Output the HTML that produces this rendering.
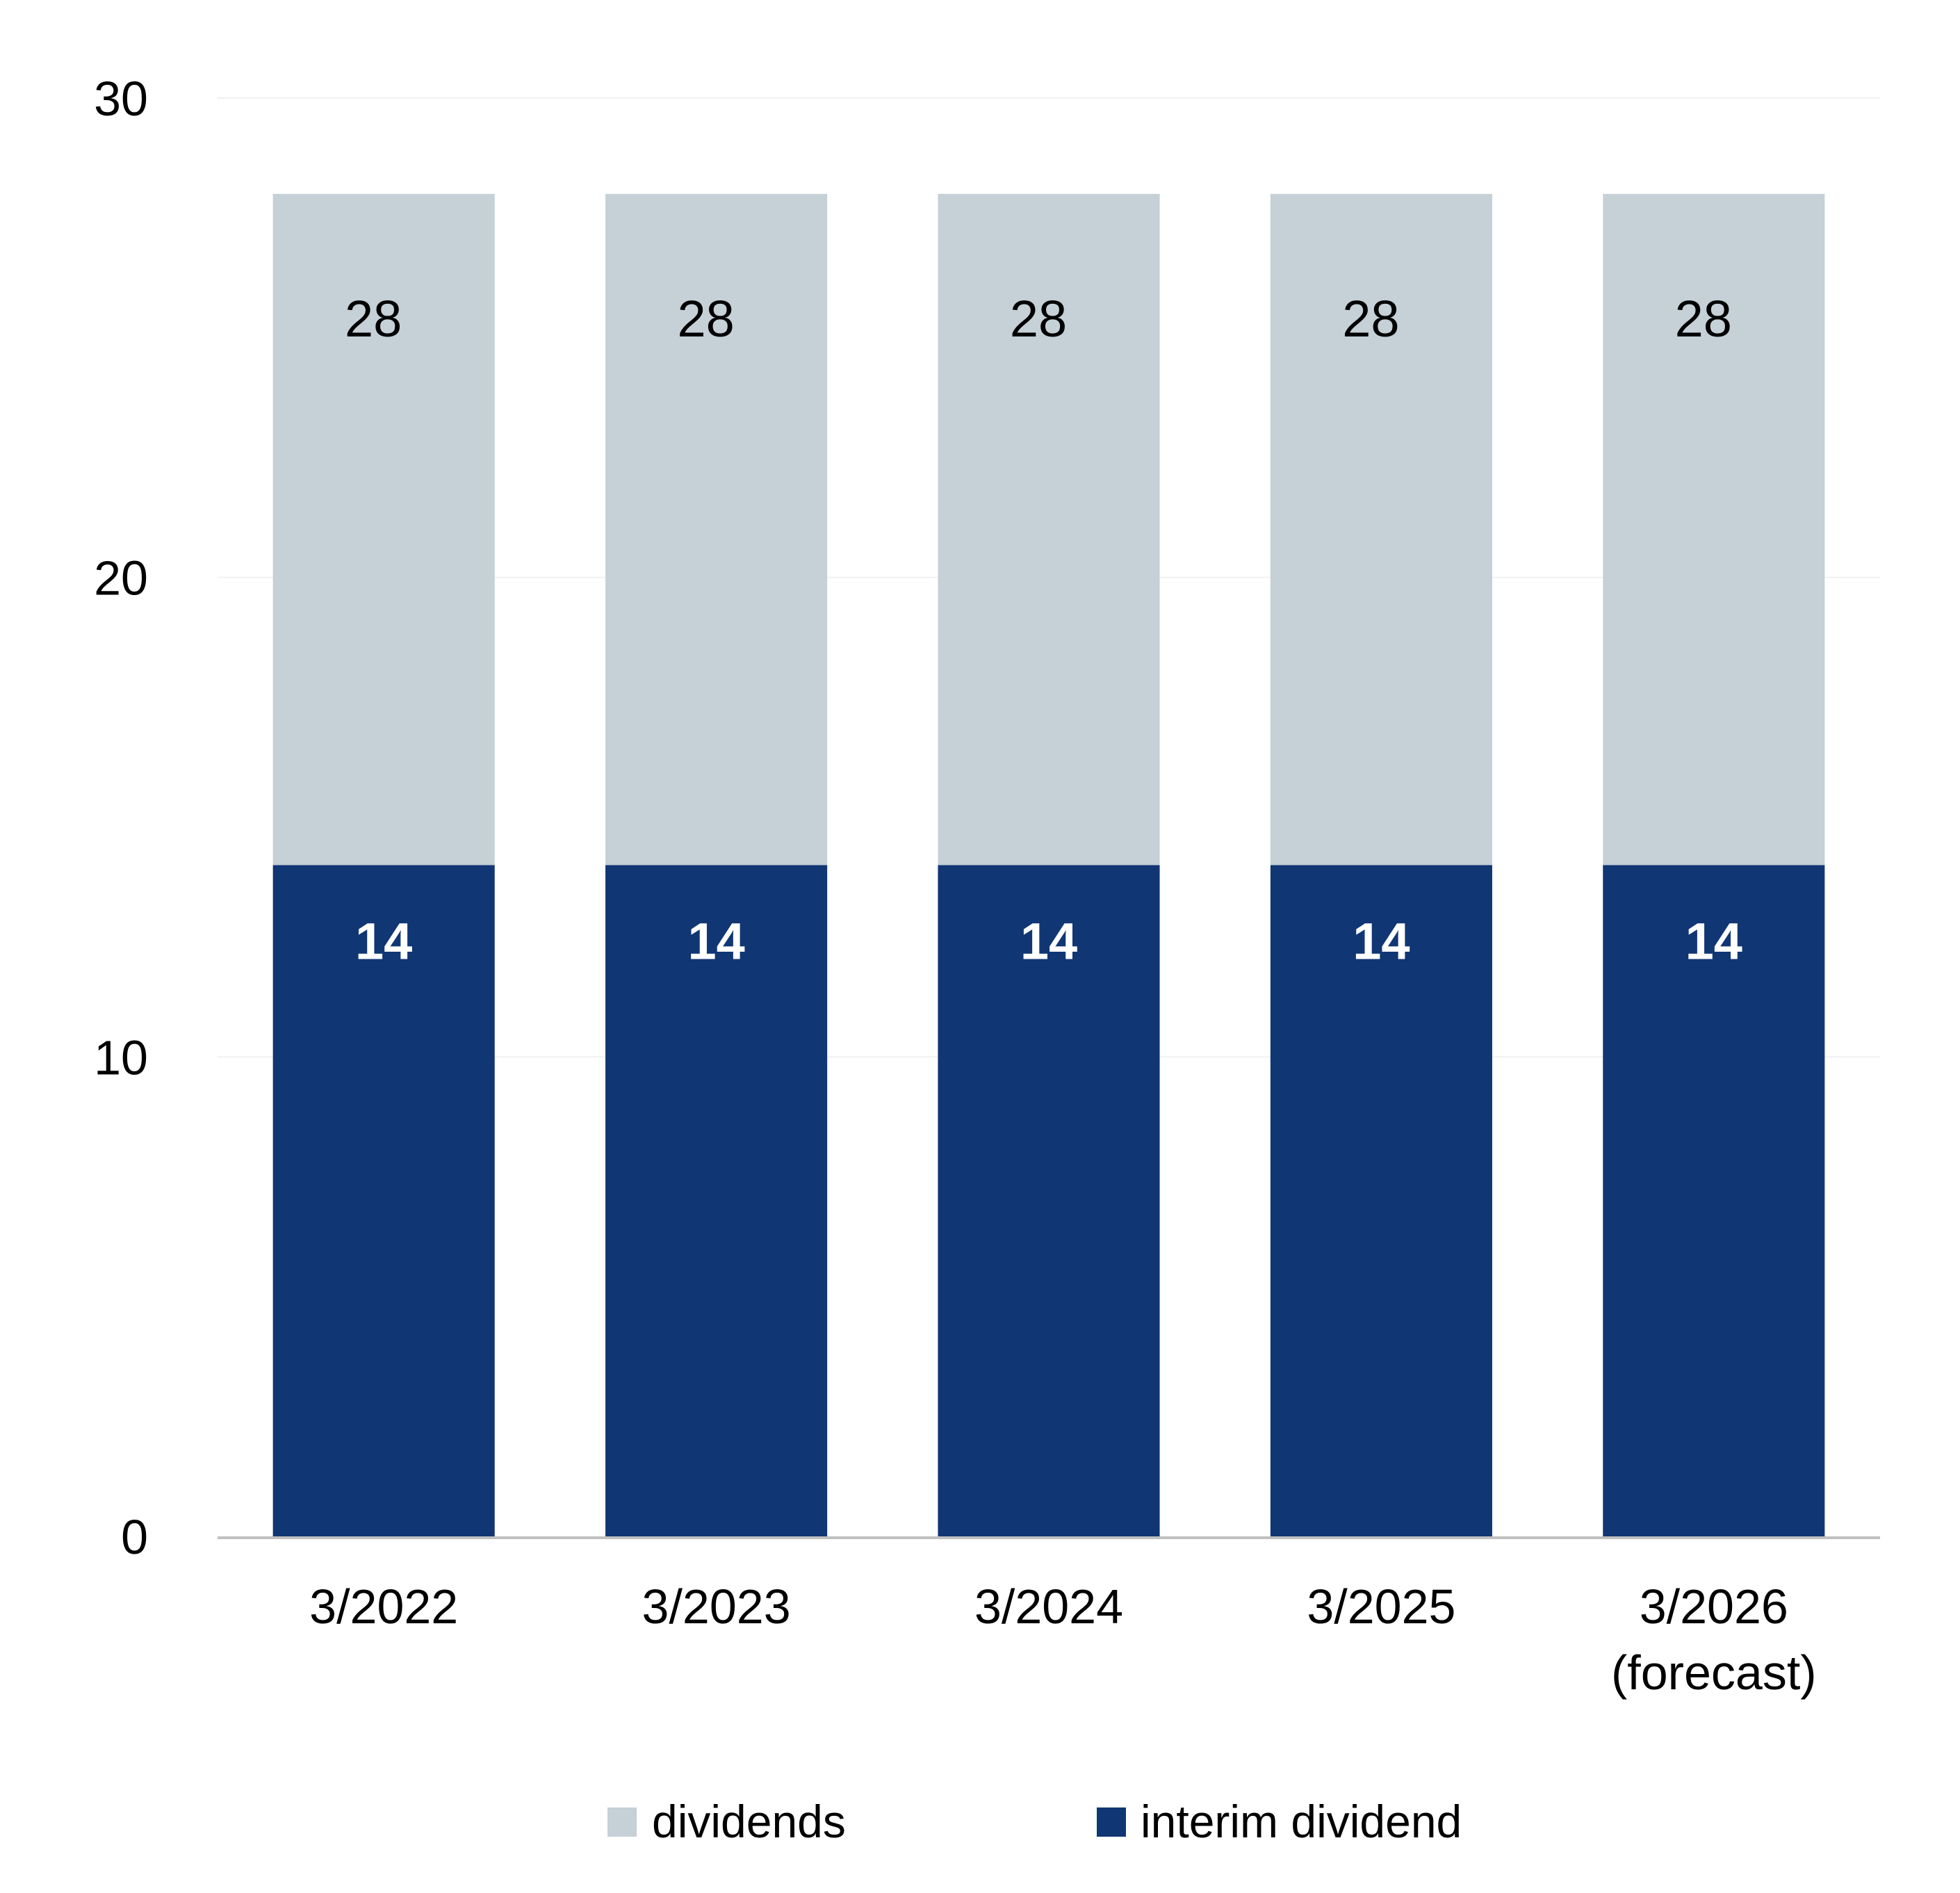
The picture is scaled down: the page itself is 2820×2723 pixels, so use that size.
<!DOCTYPE html>
<html><head><meta charset="utf-8"><style>
html,body{margin:0;padding:0;background:#fff;}
svg{display:block;font-family:"Liberation Sans",sans-serif;}
</style></head><body>
<svg id="chart" width="2820" height="2723" viewBox="0 0 2820 2723" xmlns="http://www.w3.org/2000/svg">
<g id="grid"></g>
<g id="bars"></g>
<g id="labels"></g>
<g id="yaxis"></g>
<g id="xaxis"></g>
<g>
  <rect x="874" y="2600" width="42" height="42" fill="#c5d0d7"/>
  <text x="938" y="2643" font-size="66" fill="#000">dividends</text>
  <rect x="1578" y="2600" width="42" height="42" fill="#103674"/>
  <text x="1641" y="2643" font-size="66" fill="#000">interim dividend</text>
</g>
</svg>
<script>
const categories = ["3/2022","3/2023","3/2024","3/2025","3/2026"];
const categorySub = ["","","","","(forecast)"];
const totalValues = [28,28,28,28,28];
const interimValues = [14,14,14,14,14];
const yTicks = [0,10,20,30];

const NS="http://www.w3.org/2000/svg";
const plotL=313, plotR=2705, plotTop=141, plotBot=2210, yMax=30;
const band=(plotR-plotL)/categories.length, barW=band*0.667;
function y(v){return plotBot-(v/yMax)*(plotBot-plotTop);}
function xc(i){return plotL+band*(i+0.5);}
function mk(tag,attrs,parent){const e=document.createElementNS(NS,tag);for(const k in attrs)e.setAttribute(k,attrs[k]);parent.appendChild(e);return e;}
const grid=document.getElementById('grid'),bars=document.getElementById('bars'),labels=document.getElementById('labels'),yaxis=document.getElementById('yaxis'),xaxis=document.getElementById('xaxis');

yTicks.forEach(t=>{
  if(t>0){const l=mk('line',{x1:plotL,x2:plotR,y1:y(t),y2:y(t),stroke:'#f0f0f0','stroke-width':2},grid);
  
  }
  const tx=mk('text',{x:213,y:y(t)+25,'font-size':70,'text-anchor':'end',fill:'#000'},yaxis);
  tx.textContent=t;
  
  
});

categories.forEach((c,i)=>{
  const x0=xc(i)-barW/2;
  const r1=mk('rect',{x:x0,y:y(totalValues[i]),width:barW,height:y(interimValues[i])-y(totalValues[i]),fill:'#c5d0d7'},bars);
  
  
  const r2=mk('rect',{x:x0,y:y(interimValues[i]),width:barW,height:plotBot-y(interimValues[i]),fill:'#103674'},bars);
  
  
  const t1=mk('text',{x:xc(i)-15,y:y(totalValues[i])+205,'font-size':74,'text-anchor':'middle',fill:'#000'},labels);
  t1.textContent=totalValues[i];
  
  
  const t2=mk('text',{x:xc(i),y:y(interimValues[i])+135,'font-size':74,'font-weight':'bold','text-anchor':'middle',fill:'#fff'},labels);
  t2.textContent=interimValues[i];
  
  
  const xl=mk('text',{x:xc(i),y:2335,'font-size':70,'text-anchor':'middle',fill:'#000'},xaxis);
  xl.textContent=c;
  
  
  if(categorySub[i]){
    const xs=mk('text',{x:xc(i),y:2430,'font-size':70,'text-anchor':'middle',fill:'#000'},xaxis);
    xs.textContent=categorySub[i];
    
    
  }
});
const base=mk('line',{x1:plotL,x2:plotR,y1:plotBot+2,y2:plotBot+2,stroke:'#c0c0c0','stroke-width':4},xaxis);


</script>
</body></html>
